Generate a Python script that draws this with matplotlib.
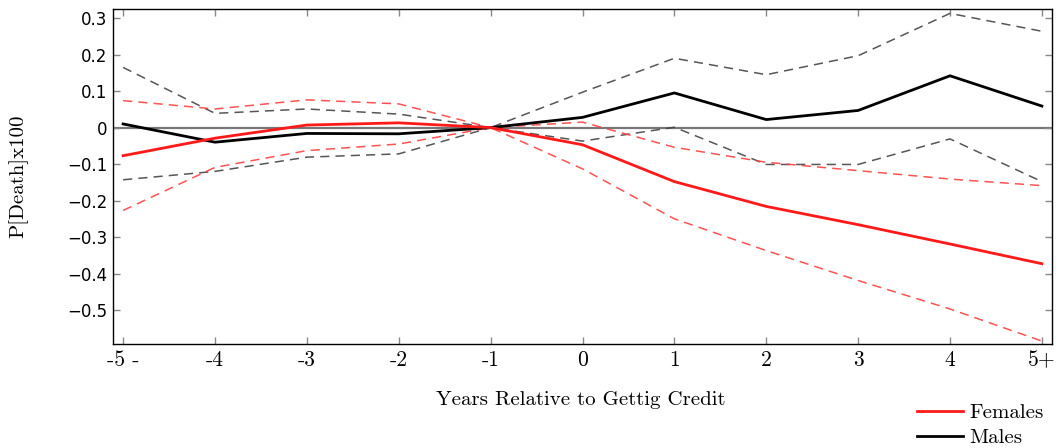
import matplotlib
matplotlib.use("Agg")
import matplotlib.pyplot as plt
from matplotlib.lines import Line2D

years = [-5, -4, -3, -2, -1, 0, 1, 2, 3, 4, 5]
xtick_labels = ["-5 -", "-4", "-3", "-2", "-1", "0", "1", "2", "3", "4", "5+"]

females = [-0.077, -0.029, 0.007, 0.013, 0.0, -0.047, -0.148, -0.216, -0.266, -0.319, -0.373]
females_hi = [0.074, 0.051, 0.076, 0.065, 0.0, 0.015, -0.054, -0.095, -0.118, -0.141, -0.159]
females_lo = [-0.227, -0.109, -0.063, -0.045, 0.0, -0.113, -0.250, -0.337, -0.419, -0.497, -0.585]

males = [0.010, -0.040, -0.016, -0.017, 0.0, 0.028, 0.095, 0.022, 0.047, 0.142, 0.059]
males_hi = [0.165, 0.039, 0.051, 0.037, 0.0, 0.097, 0.190, 0.145, 0.197, 0.313, 0.264]
males_lo = [-0.143, -0.120, -0.081, -0.072, 0.0, -0.037, 0.001, -0.101, -0.101, -0.031, -0.148]

yticks = [0.3, 0.2, 0.1, 0, -0.1, -0.2, -0.3, -0.4, -0.5]
ytick_labels = ["0.3", "0.2", "0.1", "0", "\u22120.1", "\u22120.2", "\u22120.3", "\u22120.4", "\u22120.5"]

fig = plt.figure(figsize=(10.56, 4.48), dpi=100)
ax = fig.add_axes([113/1056, 1-344/448, (1052-113)/1056, (344-9)/448])

ax.axhline(0, color="#777777", lw=1.6, zorder=1)

ax.plot(years, males_hi, color="#444444", lw=1.1, dashes=(6, 4), alpha=0.9, zorder=2)
ax.plot(years, males_lo, color="#444444", lw=1.1, dashes=(6, 4), alpha=0.9, zorder=2)
ax.plot(years, females_hi, color="#ff4040", lw=1.1, dashes=(6, 4), alpha=0.9, zorder=2)
ax.plot(years, females_lo, color="#ff4040", lw=1.1, dashes=(6, 4), alpha=0.9, zorder=2)
ax.plot(years, males, color="black", lw=2.0, zorder=3)
ax.plot(years, females, color="#ff1a1a", lw=2.0, zorder=3)

ax.set_xlim(-5.11, 5.11)
ax.set_ylim(-0.593, 0.325)

ax.set_xticks(years)
ax.set_xticklabels(xtick_labels, fontfamily="cmr10", fontsize=15.5)
ax.set_yticks(yticks)
ax.set_yticklabels(ytick_labels, fontfamily="DejaVu Sans", fontsize=12)

ax.tick_params(axis="both", direction="in", length=5, color="#888888", width=1,
               top=True, right=True)
ax.tick_params(axis="x", pad=5)
ax.tick_params(axis="y", pad=4)
for s in ax.spines.values():
    s.set_linewidth(1.0)
    s.set_color("black")

fig.text(581/1056, 1-400/448, "Years Relative to Gettig Credit",
         fontfamily="cmr10", fontsize=15, ha="center", va="center")
fig.text(18/1056, 1-176/448, "P[Death]x100", fontfamily="cmr10", fontsize=15,
         ha="center", va="center", rotation=90)

handles = [Line2D([], [], color="#ff1a1a", lw=2.0), Line2D([], [], color="black", lw=2.0)]
fig.legend(handles, ["Females", "Males"], loc="lower left",
           bbox_to_anchor=(917/1056, 1/448), frameon=False,
           prop={"family": "cmr10", "size": 15}, handlelength=2.2,
           handletextpad=0.3, labelspacing=0.3, borderpad=0, borderaxespad=0)

fig.savefig("out.png", dpi=100)
